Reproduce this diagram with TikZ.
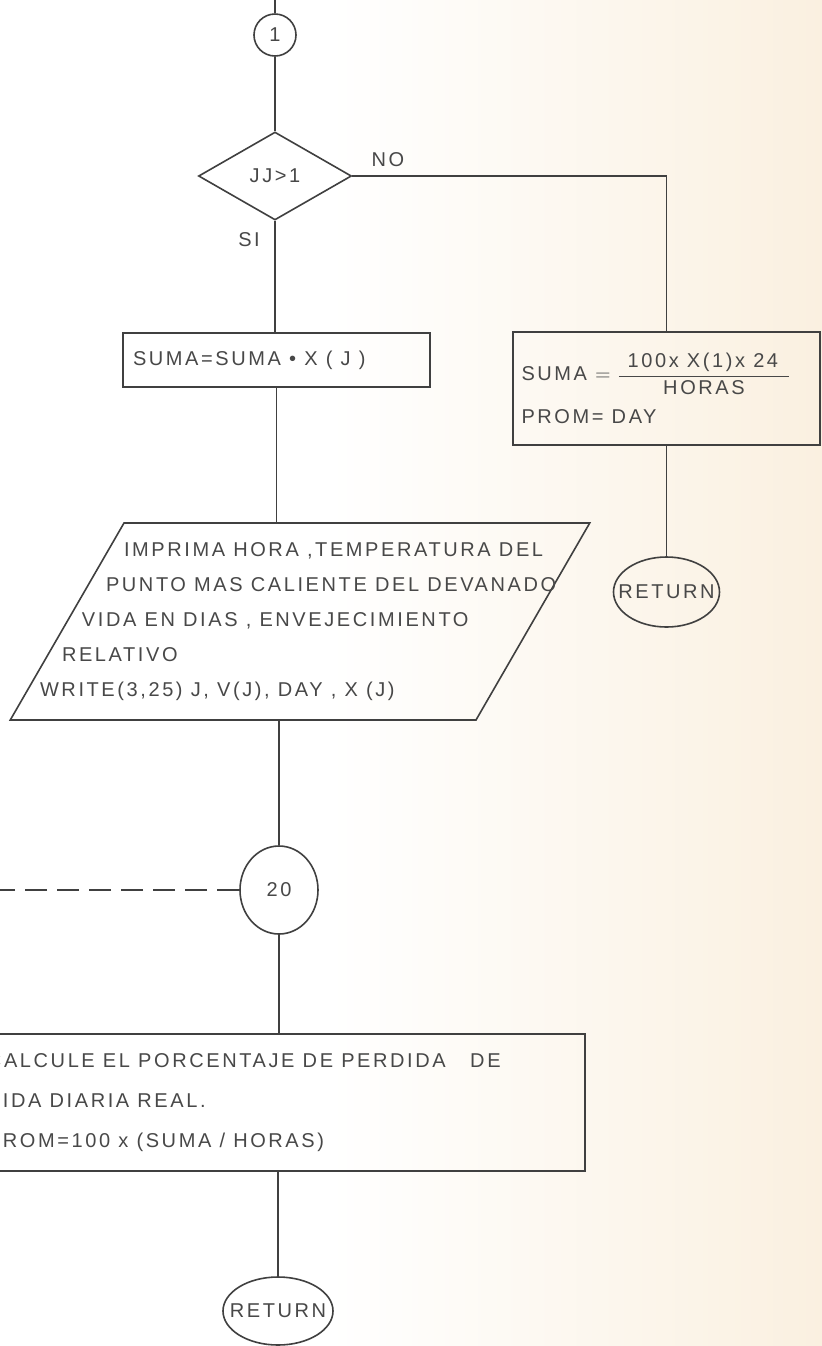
\documentclass[tikz,border=0pt]{standalone}
\usepackage{amsmath}
\usepackage{fontspec}
\setmainfont{Liberation Sans}[LetterSpace=13]
\usepackage{tikz}
\usetikzlibrary{shapes.geometric}
\usepackage{xcolor}
\definecolor{inkline}{HTML}{404040}
\definecolor{inktext}{HTML}{484848}
\definecolor{papercream}{HTML}{FAF0E0}

\begin{document}
\begin{tikzpicture}[
  x=0.5pt, y=-0.5pt,
  font=\fontsize{10}{17.5}\selectfont,
  every node/.style={text=inktext},
  flowline/.style={draw=inkline, line width=0.8pt},
  joinmark/.style={
    ellipse,
    draw=inkline,
    line width=0.8pt,
    inner sep=0pt
  },
  decision/.style={
    diamond,
    draw=inkline,
    line width=0.8pt,
    inner sep=0pt,
    aspect=1.74,
    minimum width=76.5pt,
    minimum height=44pt
  },
  procbox/.style={
    rectangle,
    draw=inkline,
    line width=0.8pt,
    inner xsep=5pt,
    inner ysep=0pt,
    align=flush left
  },
  iobox/.style={
    trapezium,
    trapezium left angle=60,
    trapezium right angle=120,
    draw=inkline,
    line width=0.8pt,
    inner sep=0pt
  },
  branchlabel/.style={inner sep=1pt}
]

  % Page frame and paper tint
  \useasboundingbox (0,0) rectangle (822,1346);
  \clip (0,0) rectangle (822,1346);
  \fill[white] (0,0) rectangle (822,1346);
  \shade[left color=white, right color=papercream] (330,0) rectangle (822,1346);

  % --- TOP: CONNECTOR AND DECISION ---
  \coordinate (topend) at (275,-5);
  \node[joinmark, minimum width=21pt, minimum height=21pt] (c1) at (275,35) {1};
  \node[decision] (jj) at (275,176) {JJ>1};
  \node[branchlabel] (lblno) at (388,160) {NO};
  \node[branchlabel] (lblsi) at (249,240) {SI};

  % --- SI BRANCH: ACCUMULATE ---
  \node[procbox, minimum width=153.5pt, minimum height=27pt, text width=143.5pt] (sum) at (276.5,360) {SUMA=SUMA • X ( J )};

  % --- NO BRANCH: FIRST HOUR ---
  \node[procbox, minimum width=153.5pt, minimum height=56.5pt, text width=145pt, inner xsep=4pt] (sumno) at (666.5,388.5) {
    SUMA $=\dfrac{\text{\;\,100x X(1)x 24\;\;}}{\text{HORAS}}$\\[4pt]
    PROM= DAY
  };
  \node[joinmark, minimum width=53pt, minimum height=35pt] (retno) at (666.5,592) {\makebox[30pt]{RETURN}};

  % --- PRINT STEP ---
  \node[iobox] (imp) at (300,621.5) {
    \parbox[c][98.5pt][c]{176pt}{%
      \makebox[0pt][l]{IMPRIMA HORA ,TEMPERATURA DEL}\\
      \hspace*{-9pt}\makebox[0pt][l]{PUNTO MAS CALIENTE DEL DEVANADO}\\
      \hspace*{-21pt}\makebox[0pt][l]{VIDA EN DIAS , ENVEJECIMIENTO}\\
      \hspace*{-31pt}\makebox[0pt][l]{RELATIVO}\\
      \hspace*{-42pt}\makebox[0pt][l]{WRITE(3,25) J, V(J), DAY , X (J)}%
    }
  };

  % --- CONNECTOR 20 AND FINAL CALCULATION ---
  \node[joinmark, minimum width=39pt, minimum height=44pt] (c20) at (279,890) {20};
  \coordinate (dashend) at (-10,890);
  \node[procbox, minimum width=307pt, minimum height=68.5pt, text width=291pt, inner xsep=8pt, font=\fontsize{10}{20}\selectfont] (calc) at (278,1102.5) {
    CALCULE EL PORCENTAJE DE PERDIDA\ \ \ DE\\
    VIDA DIARIA REAL.\\
    PROM=100 x (SUMA / HORAS)
  };
  \node[joinmark, minimum width=55pt, minimum height=34pt] (ret) at (278,1311) {\makebox[30pt]{RETURN}};

  % Flow lines
  \draw[flowline] (topend) -- (c1.north);
  \draw[flowline] (c1.south) -- (jj.north);
  \draw[flowline] (jj.south) -- (jj.south |- sum.north);
  \draw[flowline] (jj.east) -| (sumno.north);
  \draw[flowline] (sumno.south) -- (retno.north);
  \draw[flowline] (sum.south) -- (sum.south |- imp.north);
  \draw[flowline] (c20.north |- imp.south) -- (c20.north);
  \draw[flowline] (c20.south) -- (c20.south |- calc.north);
  \draw[flowline] (calc.south) -- (ret.north);
  \draw[flowline, dash pattern=on 11pt off 5pt] (c20.west) -- (dashend);

\end{tikzpicture}
\end{document}
